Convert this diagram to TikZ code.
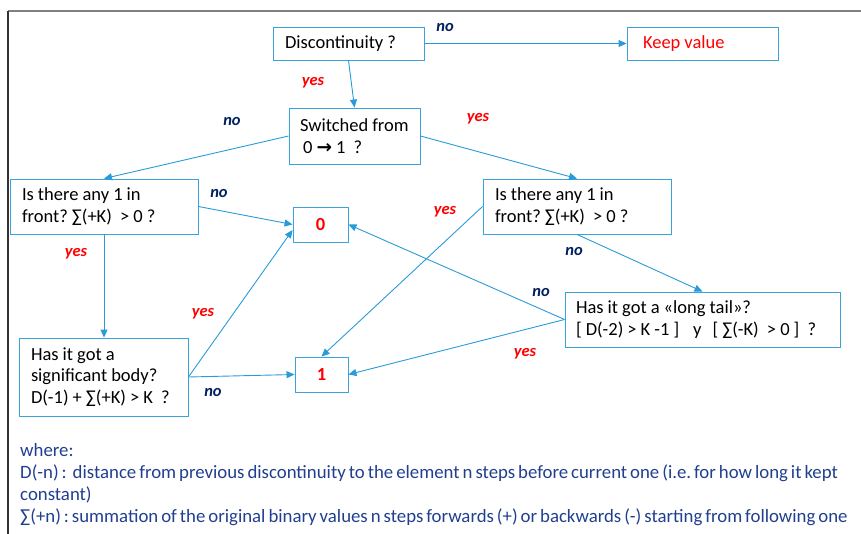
\documentclass[tikz,border=0pt]{standalone}
\usepackage{fontspec}
\setmainfont{Carlito}[WordSpace=0.7]
\newfontfamily\symfont{DejaVu Sans}
\usetikzlibrary{arrows.meta}
\frenchspacing
\definecolor{boxline}{HTML}{3BA3DB}
\definecolor{wirecol}{HTML}{2A9BD8}
\definecolor{nocol}{HTML}{002060}
\definecolor{yescol}{HTML}{FF0000}
\definecolor{notecol}{HTML}{203F8F}
\newcommand\boxspace{\spaceskip=0.22em\relax\xspaceskip=0.22em\relax}
\tikzset{
  qbox/.style={draw=boxline, line width=0.9pt, align=left, inner xsep=12pt, inner ysep=0pt,
    font=\fontsize{18.5}{21.5}\selectfont, execute at begin node=\boxspace},
  vbox/.style={draw=boxline, line width=0.9pt, inner sep=0pt, text=yescol,
    font=\fontsize{18.5}{21.5}\selectfont\bfseries},
  flow/.style={draw=wirecol, line width=0.9pt, -{Triangle[length=8pt,width=7pt]}},
  nolab/.style={text=nocol, font=\fontsize{16.5}{16.5}\selectfont\bfseries\itshape},
  yeslab/.style={text=yescol, font=\fontsize{16.5}{16.5}\selectfont\bfseries\itshape}
}
\begin{document}
\begin{tikzpicture}[x=1pt,y=-1pt]
   \useasboundingbox (0,0) rectangle (861,534);
   \draw [gray, line width=2pt] (8,11) -- (861,11);
   \draw [black!80, line width=1.5pt] (8,11) -- (8,534);
   % boxes
   \node [qbox, minimum width=151pt, minimum height=33pt, text width=127pt] (disc) at (348.5,43.5) {Discontinuity ?};
   \node [qbox, minimum width=151pt, minimum height=33pt, text width=119pt, inner xsep=16pt, text=yescol] (keep) at (702.5,43.5) {Keep value};
   \node [qbox, minimum width=131pt, minimum height=56pt, text width=109pt, inner xsep=11pt] (sw) at (354.5,136) {Switched from\\ \,0 {\symfont\bfseries →} 1\ \ ?};
   \node [qbox, minimum width=188pt, minimum height=55pt, text width=164pt] (lq) at (104,206.5) {Is there any 1 in\\ front? ∑(+K)\ \ > 0 ?};
   \node [qbox, minimum width=188pt, minimum height=55pt, text width=164pt] (rq) at (577,206.5) {Is there any 1 in\\ front? ∑(+K)\ \ > 0 ?};
   \node [vbox, minimum width=55pt, minimum height=35pt] (zero) at (320.5,224.5) {0};
   \node [vbox, minimum width=53pt, minimum height=35pt] (one) at (321.5,374.5) {1};
   \node [qbox, minimum width=169pt, minimum height=78pt, text width=145pt] (sig) at (103.5,377) {Has it got a\\ significant body?\\ D(-1) + ∑(+K) > K\ \ ?};
   \node [qbox, minimum width=275pt, minimum height=55pt, text width=253pt, inner xsep=11pt] (lt) at (702.5,319.5) {Has it got a «long tail»?\\ {[} D(-2) > K -1 ]\hspace{14pt}y\hspace{11pt}[ ∑(-K)\ \ > 0 ]\ \ ?};
   % connectors
   \draw [flow] (disc.east) -- (keep.west);
   \draw [flow] (disc.south) -- (sw.north);
   \draw [flow] (sw.west) -- (lq.north);
   \draw [flow] (sw.east) -- (rq.north);
   \draw [flow] (lq.east) -- (zero.west);
   \draw [flow] (lq.south) -- (lq.south |- sig.north);
   \draw [flow] (sig.east) -- ([yshift=-5.5pt]zero.west);
   \draw [flow] (sig.east) -- (one.west);
   \draw [flow] (rq.west) -- (one.north);
   \draw [flow] (rq.south) -- (lt.north);
   \draw [flow] (lt.west) -- (zero.east);
   \draw [flow] (lt.west) -- (one.east);
   % labels
   \node [nolab] (n1) at (445,28) {no};
   \node [yeslab] (y1) at (313,83) {yes};
   \node [nolab] (n2) at (232,121) {no};
   \node [yeslab] (y2) at (478,119) {yes};
   \node [nolab] (n3) at (219,193) {no};
   \node [yeslab] (y3) at (76,254) {yes};
   \node [yeslab] (y4) at (203,314) {yes};
   \node [nolab] (n4) at (213,392) {no};
   \node [yeslab] (y5) at (445,212) {yes};
   \node [nolab] (n5) at (574,251) {no};
   \node [nolab] (n6) at (541,292) {no};
   \node [yeslab] (y6) at (525,354) {yes};
   % notes
   \node [anchor=base west, inner sep=0pt, align=left, text=notecol, font=\fontsize{18.8}{21.7}\selectfont] (notes) at (20,522)
     {where:\\
      D(-n) :\ \ distance from previous discontinuity to the element n steps before current one (i.e. for how long it kept\\
      constant)\\
      ∑(+n) : summation of the original binary values n steps forwards (+) or backwards (-) starting from following one};
\end{tikzpicture}
\end{document}
